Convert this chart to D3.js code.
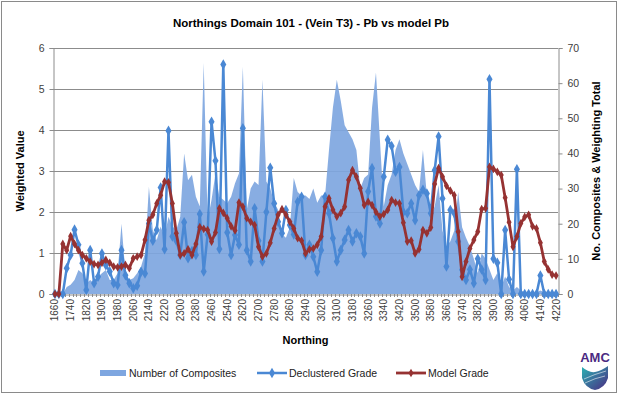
<!DOCTYPE html>
<html><head><meta charset="utf-8">
<script src="https://cdnjs.cloudflare.com/ajax/libs/d3/7.8.5/d3.min.js"></script>
<style>
html,body{margin:0;padding:0;background:#fff;}
svg text{font-family:"Liberation Sans",Arial,sans-serif;}
</style></head>
<body><svg id="c" width="623" height="396"></svg>
<script>
const northing = d3.range(1660, 4221, 20);
const tickLabels = ["1660","1740","1820","1900","1980","2060","2140","2220","2300","2380","2460","2540","2620","2700","2780","2860","2940","3020","3100","3180","3260","3340","3420","3500","3580","3660","3740","3820","3900","3980","4060","4140","4220"];
const composites = [0,0,0,2,2.6,4,6.8,5.9,3,4,3,4.9,5.9,6.8,4,4,5.9,20,5.9,4,4.5,5.9,7.8,11.6,30.5,18.2,15.4,19.2,16.3,22,19.2,18.2,22,40,32.4,33.9,27.7,24.9,65.7,21,26.8,34.3,27.7,26.8,25.8,27.7,31.5,34.3,64.7,24,30,32,31,61,32,30,26,24,17,16,19,33,29,28,28,27,30,26,28,28,41,53,61,55,48,46,44,41,30,33,34,53,63,44,25,31,34,41,44,40,37,34,31,29,41,28,22,25,31,18,13.5,15,18,29,19,16,13.5,10,6,11.6,10,7,4,6,2,5,2,1,2,1,0.5,0,0,0.5,1,0.5,0,0,0];
const declustered = [0,0,0,0.63,0.95,1.57,1.2,0.75,0.1,1.07,0.26,0.42,0.99,0.7,0.55,0.26,0.22,1.07,0.46,0.26,0.14,0.2,0.54,0.5,1.72,1.3,1.56,2.6,1.09,3.98,1.4,1.3,0.95,1.75,0.87,1.05,0.95,1.95,0.55,1.45,4.2,3.25,1.1,5.6,1.5,0.95,1.44,1.2,4.04,1.07,0.79,2.09,1.3,0.79,2.0,3.08,2.21,1.76,1.48,2.05,1.68,1.45,2.25,2.37,0.95,1.2,0.91,0.54,1.07,2.37,1.97,1.36,0.79,1.07,1.32,1.56,1.28,1.48,1.40,0.99,2.5,3.07,1.89,1.72,2.86,3.76,3.61,2.98,3.1,2.0,1.97,2.21,1.8,2.41,2.54,2.45,1.97,3.02,3.84,2.33,0.67,2.05,1.97,1.28,0.59,0.34,0.6,0.26,0.86,0.6,0.34,5.24,0.86,0.76,0,1.56,0.36,0,3.04,0,0,0,0,0,0.45,0,0,0,0];
const modelGrade = [0,0,1.22,1.07,1.41,1.22,1.07,0.95,0.87,0.79,0.73,0.71,0.76,0.83,0.76,0.67,0.65,0.67,0.71,0.63,0.87,0.91,0.95,1.32,1.80,1.93,2.21,2.41,2.74,2.72,2.21,1.48,0.95,0.99,1.09,0.95,1.22,1.63,1.59,1.56,1.28,1.50,2.09,1.98,1.85,1.65,1.55,2.23,2.13,1.85,1.76,1.68,1.15,0.91,0.99,1.25,1.60,1.93,2.07,1.93,1.76,1.60,1.36,1.30,0.99,1.09,1.11,1.20,1.40,2.13,2.33,2.05,1.89,1.97,2.13,2.78,3.02,2.86,2.58,2.17,2.25,2.17,2.00,1.89,1.95,2.05,2.29,2.23,2.21,1.74,1.28,1.30,0.99,1.09,1.56,1.48,1.62,2.68,3.07,2.86,2.64,2.52,2.41,1.52,0.42,0.79,1.11,1.32,1.52,2.07,2.09,3.10,3.05,2.98,2.90,2.35,1.75,1.15,1.40,1.72,1.88,1.93,1.65,1.60,1.25,0.79,0.60,0.47,0.45];
const leftTicks = [0,1,2,3,4,5,6];
const rightTicks = [0,10,20,30,40,50,60,70];

const svg = d3.select("#c");
const L = 53, R = 558, T = 48, B = 294;
const cArea = "#7ea6e0", cBlue = "#4a88d4", cRed = "#963232", grid = "#8c8c8c";

svg.append("rect").attr("x",1.5).attr("y",1.5).attr("width",615).attr("height",391)
  .attr("fill","#fff").attr("stroke","#8a8a8a").attr("stroke-width",1);

const x = d3.scaleBand().domain(northing).range([L, R]);
const xc = d => x(d) + x.bandwidth()/2;
const yL = d3.scaleLinear().domain([0,6]).range([B, T]);
const yR = d3.scaleLinear().domain([0,70]).range([B, T]);

svg.append("g").selectAll("line").data(leftTicks.slice(1)).join("line")
  .attr("x1",L).attr("x2",R).attr("y1",d=>Math.round(yL(d))+0.5).attr("y2",d=>Math.round(yL(d))+0.5)
  .attr("stroke",grid).attr("stroke-width",1);

const area = d3.area().x((d,i)=>xc(northing[i])).y0(B).y1(d=>yR(d));
svg.append("path").datum(composites).attr("d",area).attr("fill",cArea).attr("fill-opacity",0.92);

const gL = svg.append("g").attr("transform",`translate(${L+0.5},0)`)
  .call(d3.axisLeft(yL).tickValues(leftTicks).tickSize(4).tickPadding(5).tickFormat(d3.format("d")));
const gR = svg.append("g").attr("transform",`translate(${R+0.5},0)`)
  .call(d3.axisRight(yR).tickValues(rightTicks).tickSize(4).tickPadding(5).tickFormat(d3.format("d")));
const gB = svg.append("g").attr("transform",`translate(0,${B+0.5})`)
  .call(d3.axisBottom(x).tickValues([]).tickSize(0));
[gL,gR,gB].forEach(g=>{
  g.selectAll("path,line").attr("stroke",grid);
  g.selectAll("text").attr("font-size",10.5).attr("fill","#404040").attr("font-family","Liberation Sans, Arial");
});
svg.append("g").selectAll("line").data(northing.concat([null])).join("line")
  .attr("x1",(d,i)=>Math.round(L + i*x.step())+0.5).attr("x2",(d,i)=>Math.round(L + i*x.step())+0.5)
  .attr("y1",B).attr("y2",B+3).attr("stroke",grid);
svg.append("g").selectAll("text").data(tickLabels).join("text")
  .attr("transform",d=>`translate(${xc(+d)+3.5},${B+5}) rotate(-90)`)
  .attr("text-anchor","end").attr("font-size",10).attr("fill","#404040").text(d=>d);

const diamond = d3.symbol().type(d3.symbolDiamond);
const lineL = d3.line().x((d,i)=>xc(northing[i])).y(d=>yL(d));
svg.append("path").datum(declustered).attr("d",lineL).attr("fill","none").attr("stroke",cBlue).attr("stroke-width",2.5).attr("stroke-linejoin","round");
svg.append("g").selectAll("path").data(declustered).join("path")
  .attr("d",diamond.size(32)).attr("transform",(d,i)=>`translate(${xc(northing[i])},${yL(d)})`).attr("fill",cBlue);
svg.append("path").datum(modelGrade).attr("d",lineL).attr("fill","none").attr("stroke",cRed).attr("stroke-width",2.8).attr("stroke-linejoin","round");
svg.append("g").selectAll("path").data(modelGrade).join("path")
  .attr("d",diamond.size(22)).attr("transform",(d,i)=>`translate(${xc(northing[i])},${yL(d)})`).attr("fill",cRed);

svg.append("text").attr("x",311).attr("y",27).attr("text-anchor","middle").attr("font-size",11.5).attr("font-weight","bold").attr("fill","#000")
  .text("Northings Domain 101 - (Vein T3) - Pb vs model Pb");
svg.append("text").attr("transform",`translate(24,${(T+B)/2}) rotate(-90)`).attr("text-anchor","middle").attr("font-size",11).attr("font-weight","bold").text("Weighted Value");
svg.append("text").attr("transform",`translate(600,${(T+B)/2}) rotate(-90)`).attr("text-anchor","middle").attr("font-size",11).attr("font-weight","bold").text("No. Composites & Weighting Total");
svg.append("text").attr("x",(L+R)/2).attr("y",344).attr("text-anchor","middle").attr("font-size",11).attr("font-weight","bold").text("Northing");

const ly = 373;
const lg = svg.append("g");
lg.append("rect").attr("x",100).attr("y",ly-3).attr("width",26).attr("height",6).attr("fill",cArea);
lg.append("text").attr("x",129).attr("y",ly+4).attr("font-size",10.5).attr("fill","#222").text("Number of Composites");
lg.append("line").attr("x1",257).attr("x2",287).attr("y1",ly).attr("y2",ly).attr("stroke",cBlue).attr("stroke-width",2.5);
lg.append("path").attr("d",diamond.size(32)).attr("transform",`translate(272,${ly})`).attr("fill",cBlue);
lg.append("text").attr("x",289).attr("y",ly+4).attr("font-size",10.5).attr("fill","#222").text("Declustered Grade");
lg.append("line").attr("x1",396).attr("x2",426).attr("y1",ly).attr("y2",ly).attr("stroke",cRed).attr("stroke-width",2.8);
lg.append("path").attr("d",diamond.size(22)).attr("transform",`translate(411,${ly})`).attr("fill",cRed);
lg.append("text").attr("x",428).attr("y",ly+4).attr("font-size",10.5).attr("fill","#222").text("Model Grade");

const defs = svg.append("defs");
const gr = defs.append("linearGradient").attr("id","amcg").attr("x1","0").attr("y1","0").attr("x2","1").attr("y2","1");
gr.append("stop").attr("offset","0%").attr("stop-color","#2bb3b3");
gr.append("stop").attr("offset","100%").attr("stop-color","#4b2a82");
const logo = svg.append("g").attr("transform","translate(595,0)");
logo.append("text").attr("x",0).attr("y",362).attr("text-anchor","middle").attr("font-size",13).attr("font-weight","bold").attr("fill","#4b2a82").text("AMC");
logo.append("path").attr("d","M-13,367 Q-6,373 0,372 Q6,371 13,366 L13,378 Q10,388 0,390 Q-10,388 -13,378 Z").attr("fill","url(#amcg)");
logo.append("path").attr("d","M-11,379 Q0,374 11,371 M-10,383 Q0,378 10,376").attr("stroke","#fff").attr("stroke-width",0.8).attr("fill","none").attr("opacity",0.7);
</script></body></html>
